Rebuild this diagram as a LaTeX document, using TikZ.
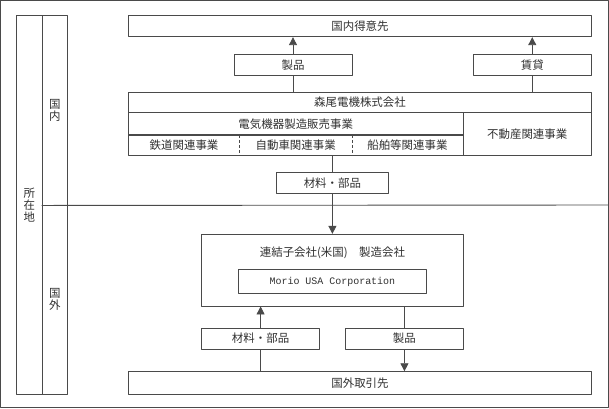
\documentclass[tikz,border=0pt]{standalone}
\usepackage{fontspec}
\setmainfont{Noto Sans CJK JP}
\newfontfamily\monofam{Liberation Mono}
\usetikzlibrary{arrows.meta}
\definecolor{linegray}{HTML}{4A4A4A}
\definecolor{textgray}{HTML}{303030}
\tikzset{
  box/.style={draw=linegray,line width=0.9bp,inner sep=0pt,minimum height=21bp,
    text=textgray,font=\fontsize{11.5}{12}\selectfont},
  cell/.style={inner sep=0pt,minimum height=20bp,text=textgray,font=\fontsize{11.5}{12}\selectfont},
  txt/.style={inner sep=0pt,text=textgray,font=\fontsize{11.5}{12}\selectfont},
  divider/.style={draw=linegray,line width=0.9bp,dash pattern=on 3bp off 2bp},
  conn/.style={draw=linegray,line width=0.9bp},
}
\begin{document}
\begin{tikzpicture}[x=1bp,y=-1bp,>={Triangle[length=8bp,width=8bp]},line join=bevel]
\useasboundingbox (0,0) rectangle (609,408);
\draw [linegray,line width=1bp] (0.5,0.5) rectangle (608.5,407.5);
%% location columns
\node (node_loc) at (29.35,204.85) [box,minimum width=25.3bp,minimum height=378.3bp,align=center] {所\\在\\地};
\node (node_dom_col) at (54.85,110.35) [box,minimum width=25.7bp,minimum height=189.3bp,align=center] {国\\内};
\node (node_ovs_col) at (54.85,299.5) [box,minimum width=25.7bp,minimum height=189bp,align=center] {国\\外};
\coordinate (node_edge) at (608,205);
\draw [conn] (node_dom_col.south west) -- (node_edge);
%% domestic
\node (node_dom) at (360,26.2) [box,minimum width=463bp] {国内得意先};
\node (node_prod_top) at (293,64.8) [box,minimum width=118bp] {製品};
\node (node_rent) at (532.25,64.8) [box,minimum width=118.5bp] {賃貸};
\node (node_morio) at (360,102.5) [box,minimum width=463bp,minimum height=20.4bp] {森尾電機株式会社};
\node (node_elec) at (295.75,123.85) [box,minimum width=334.5bp,minimum height=22.3bp] {電気機器製造販売事業};
\node (node_estate) at (527.25,133.85) [box,minimum width=128.5bp,minimum height=42.3bp] {不動産関連事業};
\node (node_rail) at (184.05,145) [cell,minimum width=111.1bp] {鉄道関連事業};
\node (node_auto) at (295.7,145) [cell,minimum width=112.2bp] {自動車関連事業};
\node (node_ship) at (407.4,145) [cell,minimum width=111.2bp] {船舶等関連事業};
\draw [conn] (node_rail.south west) rectangle (node_ship.north east);
\draw [divider] (node_rail.north east) -- (node_rail.south east);
\draw [divider] (node_auto.north east) -- (node_auto.south east);
\node (node_parts_top) at (332.4,182.65) [box,minimum width=111.8bp,minimum height=20.7bp] {材料・部品};
%
\draw [conn,->] (node_prod_top.north) -- (node_prod_top.north |- node_dom.south);
\draw [conn,->] (node_rent.north) -- (node_rent.north |- node_dom.south);
\draw [conn] (node_prod_top.south |- node_morio.north) -- (node_prod_top.south);
\draw [conn] (node_rent.south |- node_morio.north) -- (node_rent.south);
\draw [conn] (node_parts_top.north |- node_rail.south) -- (node_parts_top.north);
%% overseas
\node (node_usa) at (332.45,270.15) [box,minimum width=261.7bp,minimum height=71.7bp,label={[txt,anchor=center,yshift=-19bp]north:連結子会社(米国)　製造会社}] {};
\node (node_morio_usa) at (332.4,281.7) [box,minimum width=187.2bp,minimum height=24bp,font=\monofam\fontsize{10}{12}\selectfont] {Morio USA Corporation};
\node (node_parts_ovs) at (260.6,338.5) [box,minimum width=118bp] {材料・部品};
\node (node_prod_ovs) at (404.45,338.5) [box,minimum width=117.7bp] {製品};
\node (node_foreign) at (360,382.85) [box,minimum width=463bp,minimum height=22.3bp] {国外取引先};
%
\draw [conn,->] (node_parts_top.south) -- (node_parts_top.south |- node_usa.north);
\draw [conn,->] (node_parts_ovs.north) -- (node_parts_ovs.north |- node_usa.south);
\draw [conn] (node_parts_ovs.south |- node_foreign.north) -- (node_parts_ovs.south);
\draw [conn] (node_prod_ovs.north |- node_usa.south) -- (node_prod_ovs.north);
\draw [conn,->] (node_prod_ovs.south) -- (node_prod_ovs.south |- node_foreign.north);
%
\end{tikzpicture}
\end{document}
